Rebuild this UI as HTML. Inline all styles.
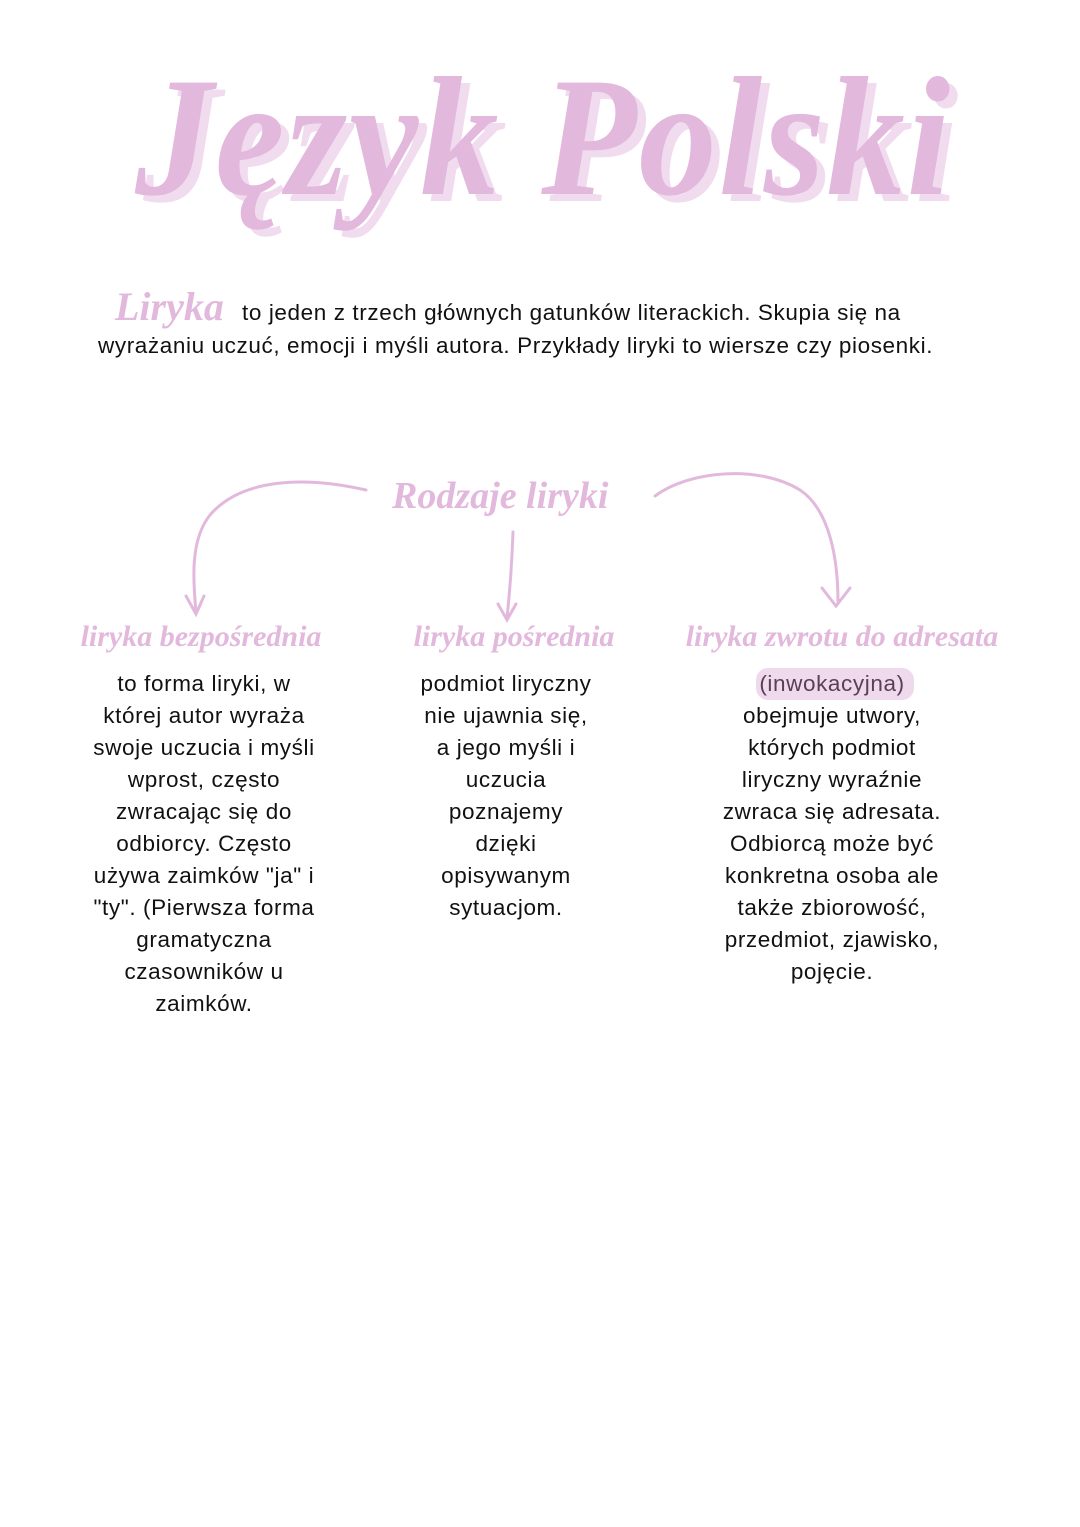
<!DOCTYPE html>
<html><head><meta charset="utf-8"><style>
body{margin:0;width:1080px;height:1527px;background:#fff;position:relative;font-family:"Liberation Sans",sans-serif;overflow:hidden}
.t{position:absolute;white-space:nowrap}
.title{left:135px;top:40px;font-size:170px;font-weight:bold;font-style:italic;color:#e2b9dc;text-shadow:9px 7px 0 #f1dcef;transform-origin:left top;transform:scaleX(0.92);letter-spacing:2px;font-family:"Liberation Serif",serif}
.h{color:#e2b9dc;font-weight:bold;font-style:italic;font-family:"Liberation Serif",serif}
.p{font-size:22.5px;color:#111;line-height:32px;letter-spacing:0.6px}
.col{position:absolute;text-align:center;font-size:22.5px;line-height:32px;color:#111;letter-spacing:0.6px}
</style></head><body>
<div class="t title">Język Polski</div>
<div class="t h" style="left:115px;top:283px;font-size:40px">Liryka</div>
<div class="t p" style="left:242px;top:297px">to jeden z trzech głównych gatunków literackich. Skupia się na</div>
<div class="t p" style="left:98px;top:330px">wyrażaniu uczuć, emocji i myśli autora. Przykłady liryki to wiersze czy piosenki.</div>
<div class="t h" style="left:392px;top:474px;font-size:38px">Rodzaje liryki</div>
<svg style="position:absolute;left:0;top:0" width="1080" height="700" fill="none" stroke="#e2b9dc" stroke-width="3" stroke-linecap="round">
<path d="M366 490 C300 475 240 480 210 515 C190 540 193 580 196 612"/>
<path d="M186 596 L196 614 L204 596"/>
<path d="M513 532 C512 560 510 590 507 618"/>
<path d="M498 604 L507 620 L516 604"/>
<path d="M655 496 C690 470 760 465 800 490 C830 510 838 560 838 602"/>
<path d="M822 588 L836 606 L850 588"/>
</svg>
<div class="t h" style="left:80px;top:620px;font-size:30px;width:242px;text-align:center">liryka bezpośrednia</div>
<div class="t h" style="left:412px;top:620px;font-size:30px;width:204px;text-align:center">liryka pośrednia</div>
<div class="t h" style="left:683px;top:620px;font-size:30px;width:318px;text-align:center">liryka zwrotu do adresata</div>
<div class="col" style="left:64px;top:668px;width:280px">to forma liryki, w<br>której autor wyraża<br>swoje uczucia i myśli<br>wprost, często<br>zwracając się do<br>odbiorcy. Często<br>używa zaimków "ja" i<br>"ty". (Pierwsza forma<br>gramatyczna<br>czasowników u<br>zaimków.</div>
<div class="col" style="left:396px;top:668px;width:220px">podmiot liryczny<br>nie ujawnia się,<br>a jego myśli i<br>uczucia<br>poznajemy<br>dzięki<br>opisywanym<br>sytuacjom.</div>
<div style="position:absolute;left:756px;top:668px;width:158px;height:32px;background:#efd9ec;border-radius:12px"></div>
<div class="col" style="left:692px;top:668px;width:280px"><span style="color:#5a3f55">(inwokacyjna)</span><br>obejmuje utwory,<br>których podmiot<br>liryczny wyraźnie<br>zwraca się adresata.<br>Odbiorcą może być<br>konkretna osoba ale<br>także zbiorowość,<br>przedmiot, zjawisko,<br>pojęcie.</div>
</body></html>
